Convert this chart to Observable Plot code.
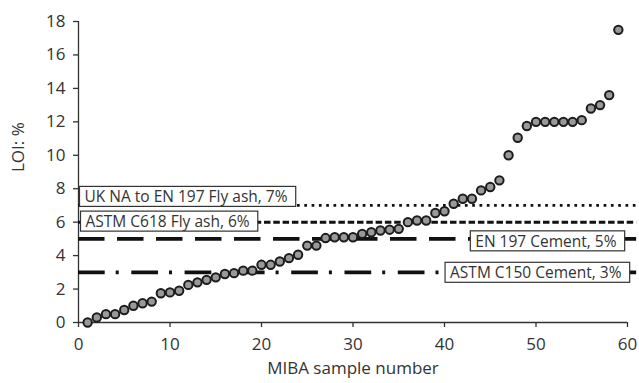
<!DOCTYPE html>
<html>
<head>
<meta charset="utf-8">
<script src="https://cdn.jsdelivr.net/npm/d3@7"></script>
<script src="https://cdn.jsdelivr.net/npm/@observablehq/plot@0.6"></script>
<style>
  html, body { margin: 0; padding: 0; background: #fff; }
  #chart { width: 639px; height: 383px; }
</style>
</head>
<body>
<div id="chart"></div>
<script>
// ---- data ----
const sampleNumbers = [1, 2, 3, 4, 5, 6, 7, 8, 9, 10, 11, 12, 13, 14, 15, 16, 17, 18, 19, 20,
  21, 22, 23, 24, 25, 26, 27, 28, 29, 30, 31, 32, 33, 34, 35, 36, 37, 38, 39, 40,
  41, 42, 43, 44, 45, 46, 47, 48, 49, 50, 51, 52, 53, 54, 55, 56, 57, 58, 59];
const loiValues = [0, 0.3, 0.5, 0.5, 0.75, 1.0, 1.15, 1.25, 1.75, 1.8,
  1.9, 2.25, 2.4, 2.55, 2.7, 2.9, 2.95, 3.1, 3.1, 3.45,
  3.45, 3.65, 3.85, 4.05, 4.6, 4.6, 5.05, 5.1, 5.1, 5.1,
  5.3, 5.4, 5.5, 5.55, 5.6, 6.0, 6.1, 6.1, 6.55, 6.65,
  7.1, 7.4, 7.4, 7.9, 8.1, 8.5, 10.0, 11.05, 11.75, 12.0,
  12.0, 12.0, 12.0, 12.0, 12.1, 12.8, 13.0, 13.6, 17.5];
const limitValues = [7, 6, 5, 3];
const limitLabels = ["UK NA to EN 197 Fly ash, 7%", "ASTM C618 Fly ash, 6%", "EN 197 Cement, 5%", "ASTM C150 Cement, 3%"];
const xTicks = [0, 10, 20, 30, 40, 50, 60];
const yTicks = [0, 2, 4, 6, 8, 10, 12, 14, 16, 18];
const xLabel = "MIBA sample number";
const yLabel = "LOI: %";

// ---- tables built from the arrays ----
const points = sampleNumbers.map((n, i) => ({n, loi: loiValues[i]}));
const limits = limitValues.map((v, i) => ({value: v, label: limitLabels[i]}));

// ---- styles ----
const ink = "#333";
const lineEnd = 61;
const lineStyles = [
  {strokeDasharray: "2.7,4.6", strokeWidth: 2.7},
  {strokeDasharray: "6.5,2.8", strokeWidth: 3},
  {strokeDasharray: "26.5,12.5", strokeWidth: 3.8},
  {strokeDasharray: "26.7,11,3,12.6", strokeWidth: 3.6}
];
const labelStyles = [
  {frameAnchor: "left", textAnchor: "start", dx: 6, dy: -8},
  {frameAnchor: "left", textAnchor: "start", dx: 7, dy: 0},
  {frameAnchor: "right", textAnchor: "end", dx: -11, dy: 3},
  {frameAnchor: "right", textAnchor: "end", dx: -6, dy: 1}
];

const lineMarks = limits.map((d, i) => Plot.ruleY([d], {
  y: "value", x1: xTicks[0], x2: lineEnd, stroke: "#111", ...lineStyles[i]
}));
const labelMarks = limits.map((d, i) => Plot.text([d], {
  y: "value", text: "label", fontSize: 15.5, fill: ink, ...labelStyles[i]
}));

const chart = Plot.plot({
  width: 639,
  height: 383,
  marginLeft: 78,
  marginRight: 12,
  marginTop: 21,
  marginBottom: 61,
  style: {fontFamily: "'Open Sans', sans-serif", fontSize: "17px", color: ink, background: "#fff", overflow: "visible"},
  x: {domain: [0, 60], label: null},
  y: {domain: [0, 18], label: null},
  marks: [
    Plot.axisX({ticks: xTicks, tickSize: 5, tickPadding: 10, label: null, fontSize: 17, strokeWidth: 1.3}),
    Plot.axisY({ticks: yTicks, tickSize: 5, tickPadding: 8, label: null, fontSize: 17, strokeWidth: 1.3}),
    Plot.ruleX([0], {stroke: ink, strokeWidth: 1.3}),
    Plot.ruleY([0], {stroke: ink, strokeWidth: 1.3}),
    ...lineMarks,
    Plot.dot(points, {x: "n", y: "loi", r: 4.2, fill: "#999", stroke: "#1c1c1c", strokeWidth: 2}),
    ...labelMarks,
    Plot.text([xLabel], {text: d => d, frameAnchor: "bottom", dy: 51, fontSize: 17, fill: ink}),
    Plot.text([yLabel], {text: d => d, frameAnchor: "left", dx: -60, rotate: -90, fontSize: 17, fill: ink})
  ]
});

document.getElementById("chart").appendChild(chart);

// white framed boxes behind the limit labels
const labelSet = new Set(limitLabels);
chart.querySelectorAll("text").forEach(t => {
  if (!labelSet.has(t.textContent)) return;
  const b = t.getBBox();
  const rect = document.createElementNS("http://www.w3.org/2000/svg", "rect");
  rect.setAttribute("x", b.x - 5);
  rect.setAttribute("y", b.y + 1);
  rect.setAttribute("width", b.width + 13);
  rect.setAttribute("height", b.height - 2);
  rect.setAttribute("fill", "#fff");
  rect.setAttribute("stroke", ink);
  rect.setAttribute("stroke-width", 1.2);
  const tr = t.getAttribute("transform");
  if (tr) rect.setAttribute("transform", tr);
  t.parentNode.insertBefore(rect, t);
});
</script>
</body>
</html>
